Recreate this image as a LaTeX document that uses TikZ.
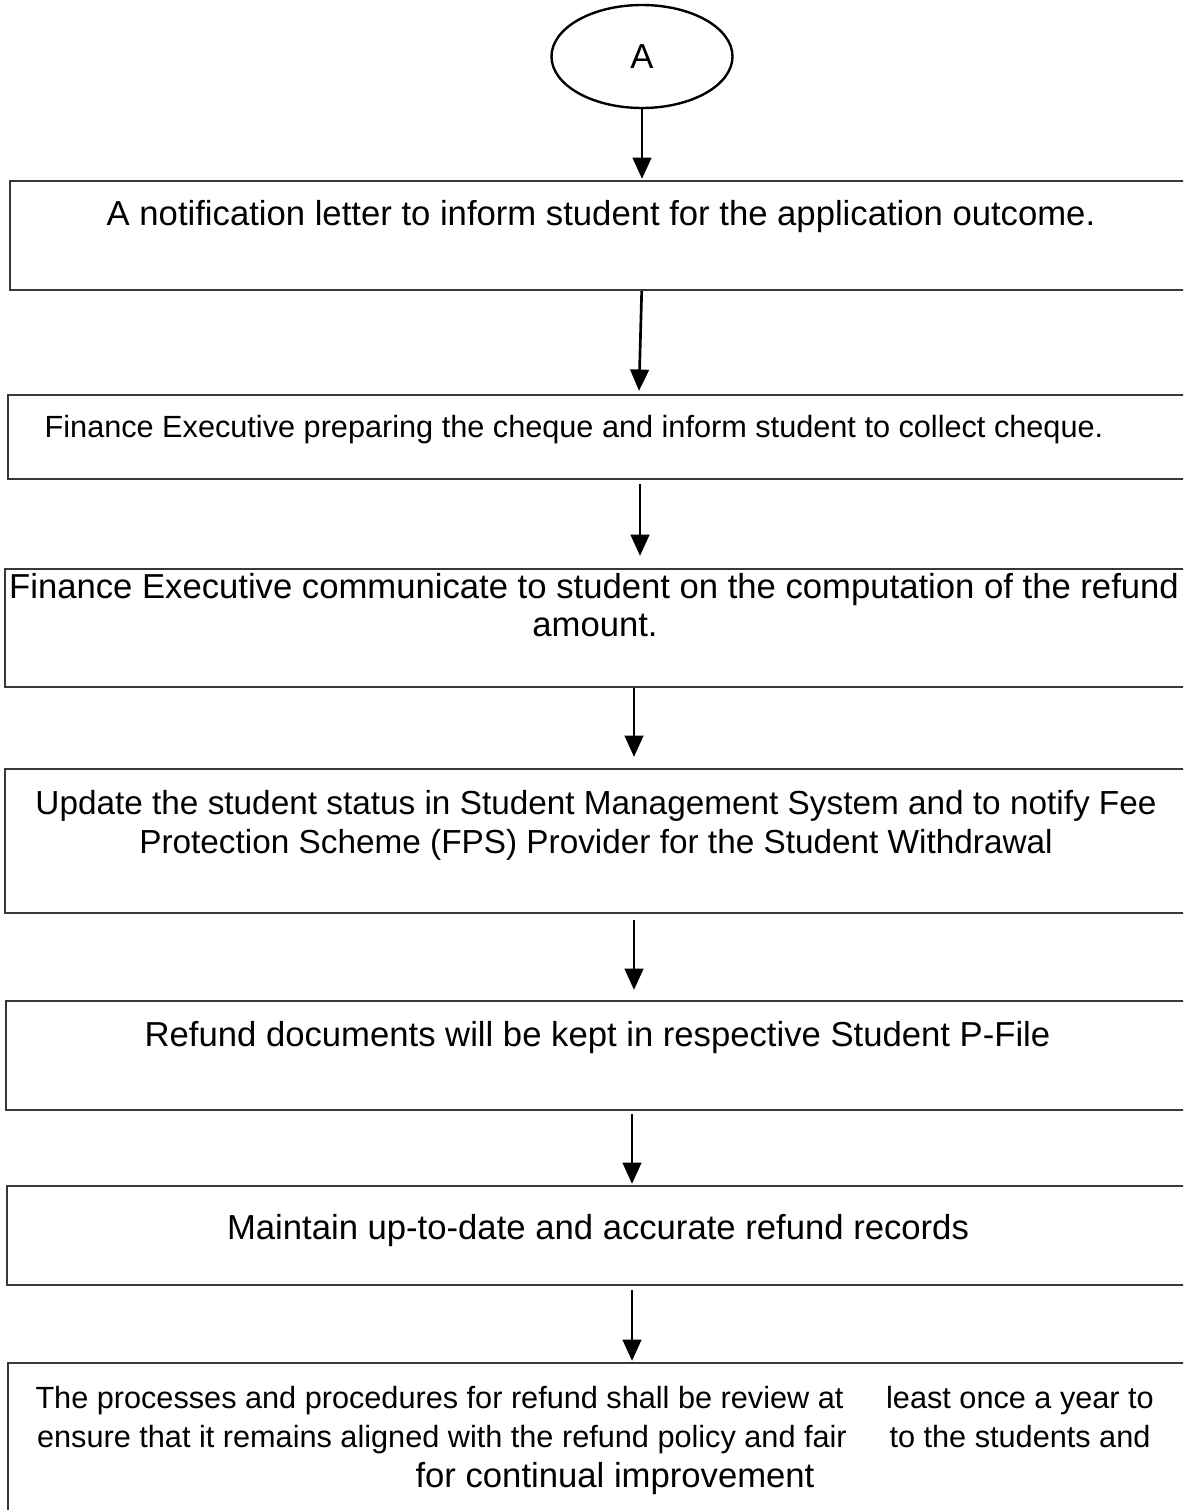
\documentclass[tikz,border=0pt]{standalone}
\usepackage{fontspec}
\setmainfont{Liberation Sans}
\usetikzlibrary{shapes.geometric,arrows.meta,fit,calc}
\begin{document}
\begin{tikzpicture}[x=0.75pt,y=-0.75pt,
  stepbox/.style={draw=black!78,line width=1.7pt,inner sep=0pt,rectangle},
  arr/.style={draw=black,line width=2pt,-{Triangle[length=16pt,width=14pt]}},
  bigtxt/.style={font=\fontsize{26pt}{30pt}\selectfont,inner sep=0pt,anchor=base},
  midtxt/.style={font=\fontsize{25pt}{29pt}\selectfont,inner sep=0pt,anchor=base},
  smalltxt/.style={font=\fontsize{23pt}{27pt}\selectfont,inner sep=0pt,anchor=base}]
\useasboundingbox (0,0) rectangle (1183,1510);
\clip (0,0) rectangle (1183,1510);
% start ellipse
\node[draw=black,line width=1.8pt,ellipse,inner sep=0pt,minimum width=135.75pt,minimum height=77.25pt,
      font=\fontsize{26pt}{30pt}\selectfont] (A) at (642,56.5) {\raisebox{-2pt}{A}};
% boxes
\node[stepbox,fit={(10,181) (1192,290)}] (b1) {};
\node[stepbox,fit={(8,395) (1192,479)}] (b2) {};
\node[stepbox,fit={(5,569) (1192,687)}] (b3) {};
\node[stepbox,fit={(5,769) (1192,913)}] (b4) {};
\node[stepbox,fit={(6,1001) (1192,1110)}] (b5) {};
\node[stepbox,fit={(7,1186) (1192,1285)}] (b6) {};
\node[stepbox,fit={(8,1363) (1192,1530)}] (b7) {};
% texts
\node[bigtxt] (t1) at (601,225) {A notification letter to inform student for the application outcome.};
\node[smalltxt] (t2) at (574,437) {Finance Executive preparing the cheque and inform student to collect cheque.};
\node[bigtxt] (t3a) at (594,598) {Finance Executive communicate to student on the computation of the refund};
\node[bigtxt] (t3b) at (595,636) {amount.};
\node[midtxt] (t4a) at (596,814) {Update the student status in Student Management System and to notify Fee};
\node[midtxt] (t4b) at (596,853) {Protection Scheme (FPS) Provider for the Student Withdrawal};
\node[bigtxt] (t5) at (597.5,1046) {Refund documents will be kept in respective Student P-File};
\node[bigtxt] (t6) at (598,1239) {Maintain up-to-date and accurate refund records};
\node[smalltxt] (t7a) at (439.5,1408) {The processes and procedures for refund shall be review at};
\node[smalltxt] (t7b) at (442,1447) {ensure that it remains aligned with the refund policy and fair};
\node[bigtxt] (t7c) at (615,1487) {for continual improvement};
\node[smalltxt] (t7d) at (1020,1408) {least once a year to};
\node[smalltxt] (t7e) at (1020,1447) {to the students and};
% connectors
\draw[arr] (A.south) -- ($(b1.north)+(41,-1)$);
\draw[arr] ($(b1.south)+(40.7,0)$) -- ($(b2.north)+(39,-3)$);
\draw[arr] ($(b2.south)+(40,4)$) -- ($(b3.north)+(41.5,-12)$);
\draw[arr] ($(b3.south)+(35.5,0)$) -- ($(b4.north)+(35.5,-11)$);
\draw[arr] ($(b4.south)+(35.5,6)$) -- ($(b5.north)+(35,-10)$);
\draw[arr] ($(b5.south)+(33,3)$) -- ($(b6.north)+(32.5,-1)$);
\draw[arr] ($(b6.south)+(32.5,4)$) -- ($(b7.north)+(32,-1)$);
\end{tikzpicture}
\end{document}
